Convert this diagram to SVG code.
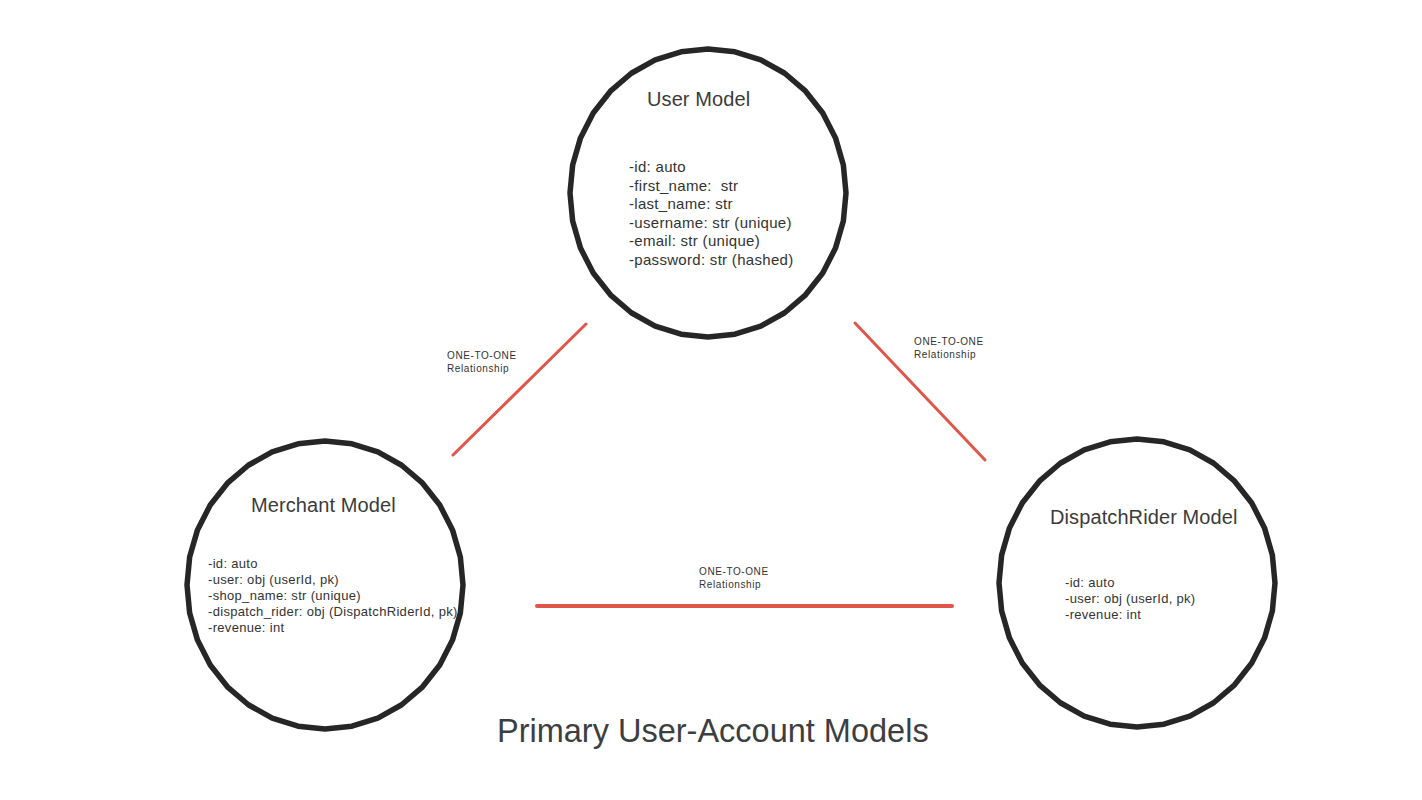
<svg xmlns="http://www.w3.org/2000/svg" xmlns:xlink="http://www.w3.org/1999/xlink" width="1422" height="800" viewBox="0 0 1422 800">
<style>
.node{fill:#fff;stroke:#262626;stroke-width:5.5;stroke-linejoin:round}
.title{font-family:"Liberation Sans",Arial,sans-serif;font-size:20px;letter-spacing:0.1px;fill:#3b3b3b}
.attr{font-family:"Liberation Sans",Arial,sans-serif;fill:#333}
.rel{font-family:"Liberation Sans",Arial,sans-serif;font-size:10px;letter-spacing:0.6px;fill:#333}
.conn{stroke:#e0564a;stroke-linecap:round;fill:none}
.main{font-family:"Liberation Sans",Arial,sans-serif;font-size:32.5px;fill:#3c3e42}
</style>
<defs>
<polygon id="circ" points="138,0 135.35,28.09 127.5,55.11 114.75,80.01 97.58,101.82 76.67,119.74 52.81,133.04 26.92,141.24 0,144 -26.92,141.24 -52.81,133.04 -76.67,119.74 -97.58,101.82 -114.75,80.01 -127.5,55.11 -135.35,28.09 -138,0 -135.35,-28.09 -127.5,-55.11 -114.75,-80.01 -97.58,-101.82 -76.67,-119.74 -52.81,-133.04 -26.92,-141.24 0,-144 26.92,-141.24 52.81,-133.04 76.67,-119.74 97.58,-101.82 114.75,-80.01 127.5,-55.11 135.35,-28.09"/>
</defs>
<rect width="1422" height="800" fill="#fff"/>
<g id="connectors">
<line class="conn" x1="586" y1="324" x2="453" y2="455" stroke-width="3"/>
<line class="conn" x1="855" y1="323" x2="985" y2="460" stroke-width="3"/>
<line class="conn" x1="537" y1="606" x2="952" y2="606" stroke-width="4"/>
<text class="rel" x="447" y="359">ONE-TO-ONE</text>
<text class="rel" x="447" y="372">Relationship</text>
<text class="rel" x="914" y="345">ONE-TO-ONE</text>
<text class="rel" x="914" y="358">Relationship</text>
<text class="rel" x="699" y="575">ONE-TO-ONE</text>
<text class="rel" x="699" y="588">Relationship</text>
</g>
<g id="user-model">
<use xlink:href="#circ" class="node" transform="translate(708,193)"/>
<text class="title" x="647" y="106">User Model</text>
<g class="attr" font-size="15" letter-spacing="0.3">
<text x="629" y="172">-id: auto</text>
<text x="629" y="190.5" xml:space="preserve">-first_name:  str</text>
<text x="629" y="209">-last_name: str</text>
<text x="629" y="227.5">-username: str (unique)</text>
<text x="629" y="246">-email: str (unique)</text>
<text x="629" y="264.5">-password: str (hashed)</text>
</g>
</g>
<g id="merchant-model">
<use xlink:href="#circ" class="node" transform="translate(325,585)"/>
<text class="title" x="251" y="512">Merchant Model</text>
<g class="attr" font-size="13" letter-spacing="0.32">
<text x="208" y="568">-id: auto</text>
<text x="208" y="584">-user: obj (userId, pk)</text>
<text x="208" y="600">-shop_name: str (unique)</text>
<text x="208" y="616">-dispatch_rider: obj (DispatchRiderId, pk)</text>
<text x="208" y="632">-revenue: int</text>
</g>
</g>
<g id="dispatchrider-model">
<use xlink:href="#circ" class="node" transform="translate(1137,583)"/>
<text class="title" x="1050" y="524">DispatchRider Model</text>
<g class="attr" font-size="13" letter-spacing="0.3">
<text x="1065" y="587">-id: auto</text>
<text x="1065" y="603">-user: obj (userId, pk)</text>
<text x="1065" y="619">-revenue: int</text>
</g>
</g>
<text class="main" x="497" y="742">Primary User-Account Models</text>
</svg>
